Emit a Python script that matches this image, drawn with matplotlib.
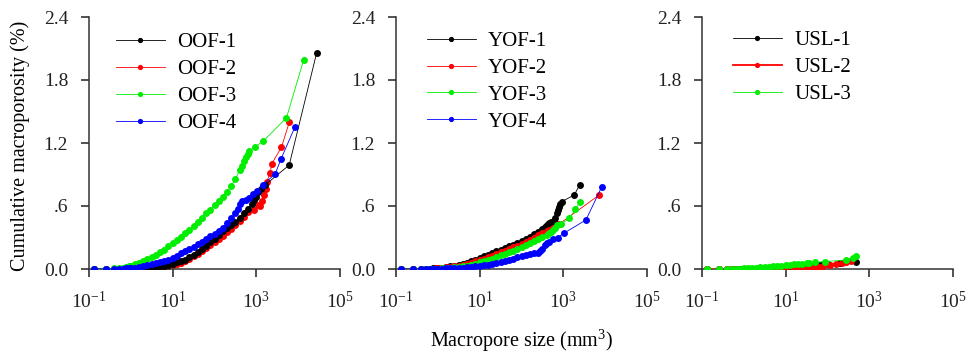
import numpy as np
import matplotlib.pyplot as plt

# Plots config
plt.rcParams.update({
    "font.family": "Liberation Serif",
    "mathtext.fontset": "custom",
    "mathtext.rm": "Liberation Serif",
    "mathtext.default": "regular",
    "axes.linewidth": 1.1,
    "axes.edgecolor": "#333333",
})

# ---- data (size in mm3, cumulative macroporosity in %) ----
# OOF panel
oof1_x = [0.13, 0.26, 0.39, 0.52, 0.65, 0.78, 0.91, 1.0, 1.26, 1.58, 2.0, 2.5, 3.2, 4.0, 5.0, 6.3, 7.9,
          10, 12.6, 15.8, 20, 25, 32, 40, 50, 63, 79, 100, 126, 158, 200, 251, 316, 398, 501, 631, 794,
          891, 1000, 1122, 1259, 1620, 6110, 27500]
oof1_y = [0, 0.001, 0.001, 0.002, 0.002, 0.003, 0.004, 0.005, 0.007, 0.009, 0.011, 0.014, 0.018, 0.022, 0.027, 0.033, 0.04,
          0.05, 0.062, 0.075, 0.09, 0.11, 0.135, 0.16, 0.19, 0.22, 0.255, 0.29, 0.325, 0.36, 0.39, 0.42, 0.45, 0.487, 0.53, 0.575, 0.62,
          0.657, 0.69, 0.73, 0.76, 0.80, 0.99, 2.054]

oof2_x = [0.13, 0.26, 0.39, 0.52, 0.65, 0.78, 0.91, 1.0, 1.26, 1.58, 2.0, 2.5, 3.2, 4.0, 5.0, 6.3, 7.9,
          10, 12.6, 15.8, 20, 25, 32, 40, 50, 63, 79, 100, 126, 158, 200, 251, 316, 398, 501, 631,
          891, 1072, 1202, 1349, 1549, 1698, 1778, 2138, 2344, 3981, 6166]
oof2_y = [0, 0, 0.001, 0.001, 0.001, 0.002, 0.002, 0.003, 0.004, 0.005, 0.006, 0.008, 0.01, 0.013, 0.016, 0.021, 0.027,
          0.035, 0.045, 0.058, 0.073, 0.095, 0.12, 0.145, 0.17, 0.197, 0.225, 0.255, 0.285, 0.318, 0.35, 0.385, 0.42, 0.46, 0.50, 0.54,
          0.56, 0.61, 0.60, 0.645, 0.705, 0.76, 0.832, 0.917, 1.003, 1.159, 1.40]

oof3_x = [0.13, 0.26, 0.39, 0.52, 0.65, 0.78, 0.91, 1.0, 1.26, 1.58, 2.0, 2.5, 3.2, 4.0, 5.0, 6.3, 7.9,
          10, 12.6, 15.8, 20, 25, 32, 40, 50, 63, 79, 100, 126, 158, 200, 251, 316, 398, 447, 501, 562, 631, 680,
          950, 1470, 5250, 13500]
oof3_y = [0, 0.003, 0.006, 0.01, 0.014, 0.019, 0.026, 0.032, 0.045, 0.06, 0.075, 0.092, 0.11, 0.135, 0.16, 0.185, 0.215,
          0.245, 0.275, 0.305, 0.34, 0.375, 0.41, 0.45, 0.49, 0.53, 0.565, 0.605, 0.645, 0.69, 0.735, 0.79, 0.855, 0.94, 0.98, 1.03, 1.07, 1.10, 1.127,
          1.165, 1.219, 1.44, 1.99]

oof4_x = [0.13, 0.26, 0.39, 0.52, 0.65, 0.78, 0.91, 1.0, 1.26, 1.58, 2.0, 2.5, 3.2, 4.0, 5.0, 6.3, 7.9,
          10, 12.6, 15.8, 20, 25, 32, 40, 50, 63, 79, 100, 126, 158, 200, 251, 316, 355, 398, 447,
          562, 661, 832, 1023, 1413, 2818, 3864, 8318]
oof4_y = [0, 0.001, 0.002, 0.003, 0.004, 0.005, 0.007, 0.009, 0.013, 0.019, 0.026, 0.034, 0.043, 0.053, 0.064, 0.077, 0.09,
          0.105, 0.125, 0.148, 0.17, 0.19, 0.212, 0.235, 0.26, 0.285, 0.31, 0.337, 0.365, 0.395, 0.44, 0.485, 0.535, 0.575, 0.615, 0.645,
          0.655, 0.673, 0.71, 0.745, 0.80, 0.905, 1.045, 1.35]

# YOF panel
yof1_x = [0.13, 0.26, 0.39, 0.52, 0.65, 0.78, 0.91, 1.0, 1.26, 1.58, 2.0, 2.5, 3.2, 4.0, 5.0, 6.3, 7.9,
          10, 12.6, 15.8, 20, 25, 32, 40, 50, 63, 79, 100, 126, 158, 200, 251, 316, 355, 398, 447, 501,
          589, 631, 692, 741, 794, 851, 912, 1820, 2455]
yof1_y = [0, 0.001, 0.002, 0.003, 0.004, 0.006, 0.008, 0.01, 0.014, 0.019, 0.025, 0.032, 0.04, 0.049, 0.06, 0.072, 0.087,
          0.105, 0.12, 0.135, 0.15, 0.167, 0.184, 0.2, 0.217, 0.233, 0.25, 0.268, 0.287, 0.308, 0.33, 0.357, 0.38, 0.40, 0.42, 0.435, 0.45,
          0.46, 0.485, 0.53, 0.56, 0.59, 0.615, 0.641, 0.705, 0.80]

yof2_x = [0.13, 0.26, 0.39, 0.52, 0.65, 0.78, 0.91, 1.0, 1.26, 1.58, 2.0, 2.5, 3.2, 4.0, 5.0, 6.3, 7.9,
          10, 12.6, 15.8, 20, 25, 32, 40, 50, 63, 79, 100, 126, 158, 200, 251, 316, 398, 447, 562, 776, 7200]
yof2_y = [0, 0.001, 0.001, 0.002, 0.003, 0.004, 0.006, 0.008, 0.011, 0.015, 0.02, 0.026, 0.033, 0.041, 0.05, 0.06, 0.072,
          0.086, 0.1, 0.114, 0.128, 0.143, 0.158, 0.174, 0.19, 0.206, 0.223, 0.24, 0.258, 0.277, 0.297, 0.32, 0.345, 0.365, 0.375, 0.39, 0.425, 0.705]

yof3_x = [0.13, 0.26, 0.39, 0.52, 0.65, 0.78, 0.91, 1.0, 1.26, 1.58, 2.0, 2.5, 3.2, 4.0, 5.0, 6.3, 7.9,
          10, 12.6, 15.8, 20, 25, 32, 40, 50, 63, 79, 100, 126, 158, 200, 251, 316, 398, 447, 501, 562, 631,
          724, 881, 1380, 1950, 2510]
yof3_y = [0, 0, 0.001, 0.001, 0.002, 0.002, 0.003, 0.004, 0.006, 0.008, 0.011, 0.015, 0.02, 0.026, 0.033, 0.041, 0.05,
          0.062, 0.074, 0.087, 0.1, 0.115, 0.13, 0.145, 0.16, 0.176, 0.192, 0.208, 0.225, 0.243, 0.263, 0.285, 0.305, 0.325, 0.34, 0.35, 0.37, 0.39,
          0.415, 0.428, 0.483, 0.568, 0.641]

yof4_x = [0.13, 0.26, 0.39, 0.52, 0.65, 0.78, 0.91, 1.0, 1.26, 1.58, 2.0, 2.5, 3.2, 4.0, 5.0, 6.3, 7.9,
          10, 12.6, 15.8, 20, 25, 32, 40, 50, 63, 79, 100, 126, 158, 200, 251, 282, 316, 355, 398, 447,
          562, 733, 1023, 3467, 8318]
yof4_y = [0, 0, 0, 0.001, 0.001, 0.001, 0.002, 0.003, 0.004, 0.005, 0.007, 0.009, 0.011, 0.014, 0.017, 0.021, 0.025,
          0.03, 0.035, 0.041, 0.048, 0.056, 0.065, 0.075, 0.086, 0.098, 0.11, 0.122, 0.135, 0.145, 0.15, 0.157, 0.17, 0.195, 0.225, 0.245, 0.26,
          0.283, 0.30, 0.34, 0.467, 0.784]

# USL panel
usl1_x = [0.13, 0.26, 0.39, 0.52, 0.65, 0.78, 0.91, 1.0, 1.26, 1.58, 2.0, 2.5, 3.2, 4.0, 5.0, 6.3, 7.9,
          10, 12.6, 15.8, 20, 25, 32, 40, 50, 63, 79, 100, 200, 490]
usl1_y = [0, 0, 0, 0, 0.001, 0.001, 0.001, 0.002, 0.002, 0.003, 0.003, 0.004, 0.005, 0.006, 0.007, 0.008, 0.009,
          0.011, 0.013, 0.015, 0.018, 0.021, 0.025, 0.03, 0.035, 0.041, 0.047, 0.05, 0.054, 0.064]

usl2_x = [0.13, 0.26, 0.39, 0.52, 0.65, 0.78, 0.91, 1.0, 1.58, 2.5, 4.0, 6.3,
          10, 15.8, 20, 25, 32, 40, 50, 63, 79, 112, 158, 224, 282, 363]
usl2_y = [0, 0, 0, 0, 0, 0, 0, 0.001, 0.001, 0.001, 0.002, 0.003,
          0.004, 0.006, 0.008, 0.01, 0.012, 0.015, 0.018, 0.021, 0.025, 0.035, 0.045, 0.055, 0.065, 0.078]

usl3_x = [0.13, 0.26, 0.39, 0.52, 0.65, 0.78, 0.91, 1.0, 1.26, 1.58, 2.0, 2.5, 3.2, 4.0, 5.0, 6.3, 7.9,
          10, 12.6, 15.8, 20, 25, 32, 35.5, 49, 85, 282, 398, 479]
usl3_y = [0, 0, 0.001, 0.002, 0.002, 0.003, 0.004, 0.005, 0.007, 0.01, 0.013, 0.016, 0.019, 0.022, 0.025, 0.029, 0.032,
          0.036, 0.04, 0.044, 0.048, 0.052, 0.057, 0.06, 0.064, 0.07, 0.086, 0.108, 0.127]

panels = [
    [("OOF-1", oof1_x, oof1_y, "black"), ("OOF-2", oof2_x, oof2_y, "red"),
     ("OOF-3", oof3_x, oof3_y, "#00ee00"), ("OOF-4", oof4_x, oof4_y, "blue")],
    [("YOF-1", yof1_x, yof1_y, "black"), ("YOF-2", yof2_x, yof2_y, "red"),
     ("YOF-3", yof3_x, yof3_y, "#00ee00"), ("YOF-4", yof4_x, yof4_y, "blue")],
    [("USL-1", usl1_x, usl1_y, "black"), ("USL-2", usl2_x, usl2_y, "red"),
     ("USL-3", usl3_x, usl3_y, "#00ee00")],
]

W, H = 971, 357
fig = plt.figure(figsize=(W / 100, H / 100), dpi=100)

lefts = [89, 396, 702]
leg_anchor = [(0.107, 0.938), (0.122, 0.943), (0.1235, 0.945)]

for i, series in enumerate(panels):
    ax = fig.add_axes([lefts[i] / W, 1 - 269 / H, 251 / W, 252 / H])
    for j, (lab, x, y, c) in enumerate(series):
        lw = 1.3 if lab == "USL-2" else 0.6
        if i == 0:
            z = {0: 3, 1: 2}.get(j, j + 2)
        else:
            z = j + 2
        ax.plot(x, y, "-o", color=c, lw=lw, ms=5, mec=c, mfc=c, mew=0, label=lab, zorder=z)
    ax.set_xscale("log")
    ax.set_xlim(0.1, 1e5)
    ax.set_ylim(0, 2.4)
    ax.set_xticks([0.1, 10, 1000, 1e5], labels=["10$^{-1}$", "10$^{1}$", "10$^{3}$", "10$^{5}$"])
    ax.minorticks_off()
    ax.set_yticks([0, 0.6, 1.2, 1.8, 2.4], labels=["0.0", ".6", "1.2", "1.8", "2.4"])
    ax.spines["top"].set_visible(False)
    ax.spines["right"].set_visible(False)
    ax.tick_params(direction="out", length=6, width=1.1, labelsize=14, pad=9, colors="#222222")
    ax.tick_params(axis="x", pad=10)
    ax.patch.set_alpha(0)
    leg = ax.legend(loc="upper left", bbox_to_anchor=leg_anchor[i], frameon=False, borderpad=0,
                    borderaxespad=0, handlelength=2.35, handletextpad=0.6, labelspacing=0.35,
                    fontsize=15, markerscale=0.75)

fig.text(20 / W, 1 - 146 / H, "Cumulative macroporosity (%)", rotation=90,
         ha="center", va="center", fontsize=14.5)
fig.text(522 / W, 1 - 341 / H, "Macropore size (mm$^{3}$)", ha="center", va="center", fontsize=14.5)

fig.savefig("out.png", dpi=100)
